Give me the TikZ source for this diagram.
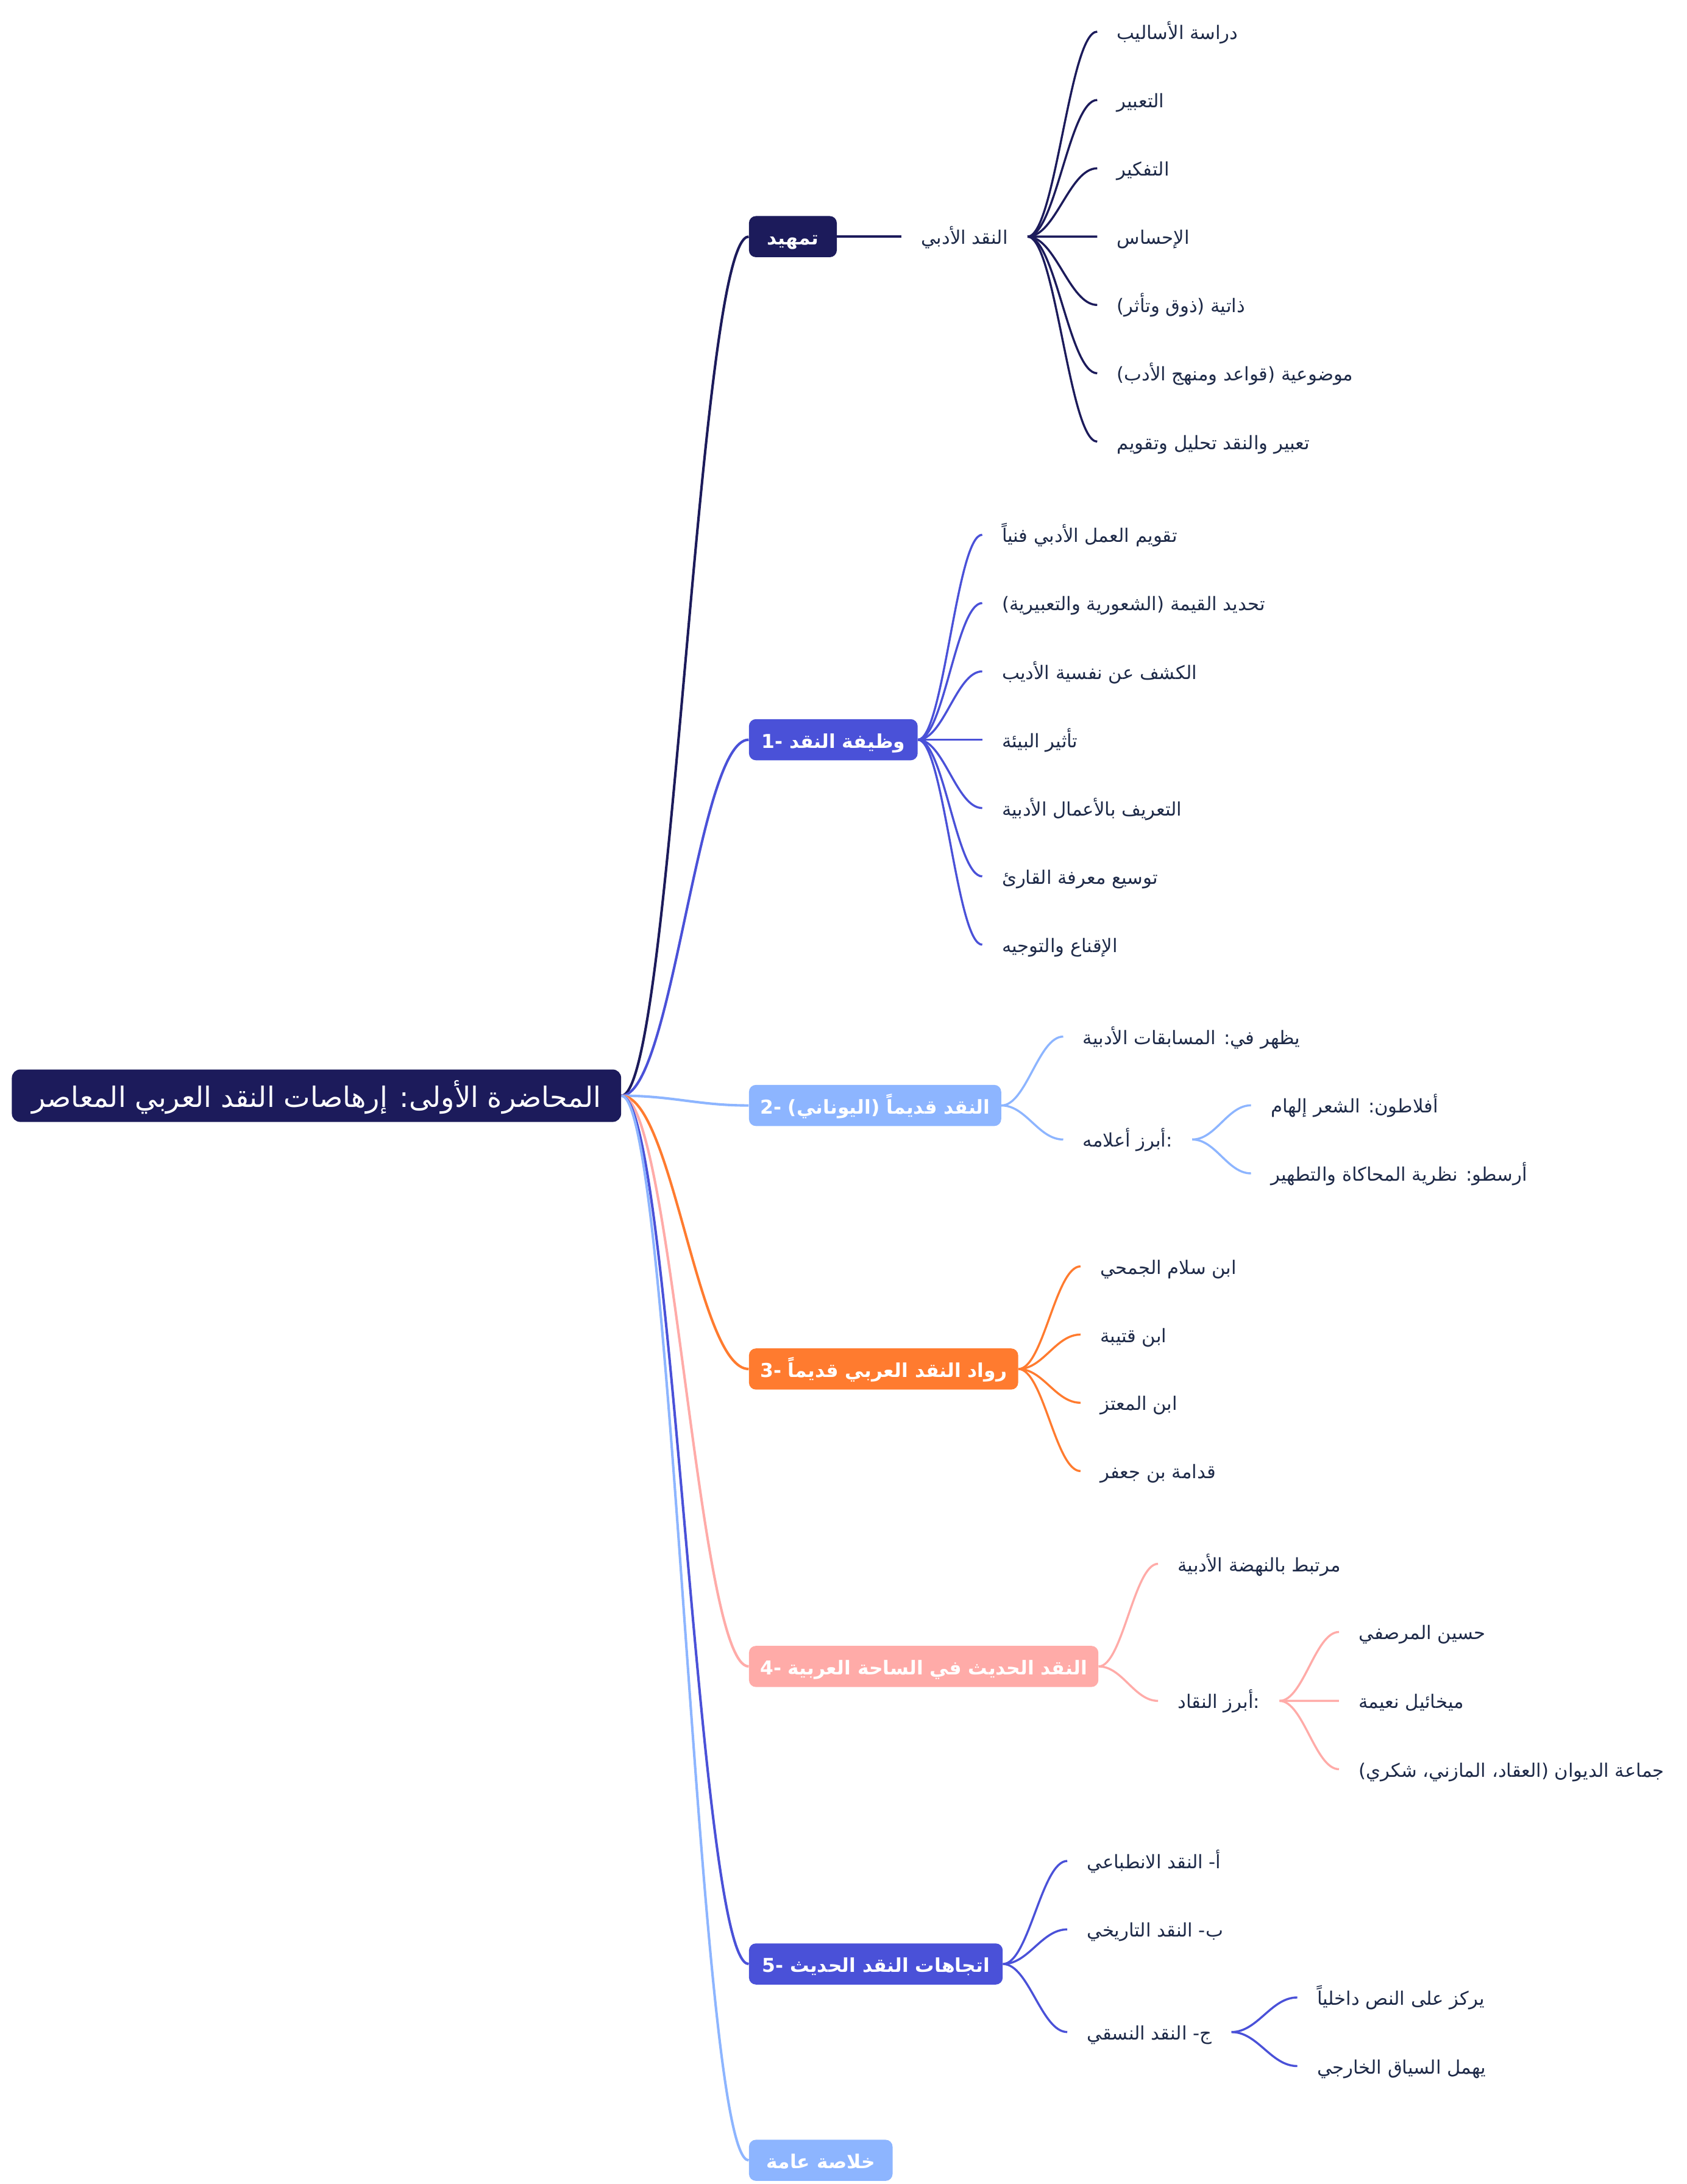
\documentclass[tikz,border=0pt]{standalone}
\usepackage{fontspec}
\usetikzlibrary{calc}
\TeXXeTstate=1
\setmainfont{DejaVu Sans}
\newfontfamily\arabicfont[Script=Arabic]{DejaVu Sans}
\definecolor{navy}{HTML}{1C1B5B}
\definecolor{royal}{HTML}{4A51D8}
\definecolor{sky}{HTML}{8DB5FF}
\definecolor{tang}{HTML}{FF7B2F}
\definecolor{rose}{HTML}{FFABA8}
\definecolor{leaftext}{HTML}{1E2A48}
\newcommand\artext[1]{\beginR #1\endR}
\newcommand\numpre[1]{{\rmfamily\bfseries #1-}\ }
\newcommand\mmlink[3]{\draw[#1] (#2) .. controls ($(#2)!0.4!(#2 -| #3)$) and ($(#3)!0.4!(#3 -| #2)$) .. (#3);}
\tikzset{
  rootbox/.style={fill=navy, rounded corners=6pt, text=white, minimum width=437pt,
    minimum height=37.6pt, inner xsep=8pt, inner ysep=0pt, text height=16.6pt, text depth=0pt,
    font=\arabicfont\fontsize{20.2}{24}\selectfont},
  topic/.style={anchor=west, rounded corners=5pt, text=white, minimum height=29.5pt,
    inner xsep=8pt, inner ysep=0pt, text height=12pt, text depth=0pt,
    font=\arabicfont\bfseries\fontsize{13.7}{17}\selectfont},
  leaf/.style={anchor=west, inner xsep=14pt, inner ysep=1pt, text=leaftext,
    text height=13pt, text depth=2pt, font=\arabicfont\fontsize{13.4}{16}\selectfont},
  rootlink/.style={line width=1.8pt},
  sublink/.style={line width=1.5pt},
}
\begin{document}
\begin{tikzpicture}[x=1pt,y=-1pt]
\useasboundingbox (0,0) rectangle (1210,1566.3);
% root
\node[rootbox] (root) at (227,785.8) {\artext{المحاضرة الأولى: إرهاصات النقد العربي المعاصر}};
% level 1
\node[topic, fill=navy, minimum width=63pt] (b0) at (537,169.7) {\artext{تمهيد}};
\node[topic, fill=royal, minimum width=121pt] (b1) at (537,530.5) {\numpre{1}\artext{وظيفة النقد}};
\node[topic, fill=sky, minimum width=179pt] (b2) at (537,792.8) {\numpre{2}\artext{النقد قديماً (اليوناني)}};
\node[topic, fill=tang, minimum width=191pt] (b3) at (537,981.8) {\numpre{3}\artext{رواد النقد العربي قديماً}};
\node[topic, fill=rose, minimum width=247pt] (b4) at (537,1195.1) {\numpre{4}\artext{النقد الحديث في الساحة العربية}};
\node[topic, fill=royal, minimum width=182pt] (b5) at (537,1408.5) {\numpre{5}\artext{اتجاهات النقد الحديث}};
\node[topic, fill=sky, minimum width=103pt] (b6) at (537,1549.3) {\artext{خلاصة عامة}};
% root links
\mmlink{rootlink,navy}{root.east}{b0.west}
\mmlink{rootlink,royal}{root.east}{b1.west}
\mmlink{rootlink,sky}{root.east}{b2.west}
\mmlink{rootlink,tang}{root.east}{b3.west}
\mmlink{rootlink,rose}{root.east}{b4.west}
\mmlink{rootlink,royal}{root.east}{b5.west}
\mmlink{rootlink,sky}{root.east}{b6.west}
% branch 0
\node[leaf] (n0) at (646.5,169.7) {\artext{النقد الأدبي}};
\draw[sublink,navy] (b0.east) -- (n0.west);
\node[leaf] (t1) at (787,22.7) {\artext{دراسة الأساليب}};
\node[leaf] (t2) at (787,71.7) {\artext{التعبير}};
\node[leaf] (t3) at (787,120.7) {\artext{التفكير}};
\node[leaf] (t4) at (787,169.7) {\artext{الإحساس}};
\node[leaf] (t5) at (787,218.7) {\artext{ذاتية (ذوق وتأثر)}};
\node[leaf] (t6) at (787,267.7) {\artext{موضوعية (قواعد ومنهج الأدب)}};
\node[leaf] (t7) at (787,316.7) {\artext{تعبير والنقد تحليل وتقويم}};
\foreach \i in {1,...,7}{\mmlink{sublink,navy}{n0.east}{t\i.west}}
% branch 1
\node[leaf] (f1) at (704.5,383.5) {\artext{تقويم العمل الأدبي فنياً}};
\node[leaf] (f2) at (704.5,432.5) {\artext{تحديد القيمة (الشعورية والتعبيرية)}};
\node[leaf] (f3) at (704.5,481.5) {\artext{الكشف عن نفسية الأديب}};
\node[leaf] (f4) at (704.5,530.5) {\artext{تأثير البيئة}};
\node[leaf] (f5) at (704.5,579.5) {\artext{التعريف بالأعمال الأدبية}};
\node[leaf] (f6) at (704.5,628.5) {\artext{توسيع معرفة القارئ}};
\node[leaf] (f7) at (704.5,677.5) {\artext{الإقناع والتوجيه}};
\foreach \i in {1,...,7}{\mmlink{sublink,royal}{b1.east}{f\i.west}}
% branch 2
\node[leaf] (g1) at (762.6,743.4) {\artext{يظهر في: المسابقات الأدبية}};
\node[leaf] (g2) at (762.6,817.2) {\artext{أبرز أعلامه}:};
\node[leaf] (g21) at (897.3,792.7) {\artext{أفلاطون: الشعر إلهام}};
\node[leaf] (g22) at (897.3,841.5) {\artext{أرسطو: نظرية المحاكاة والتطهير}};
\mmlink{sublink,sky}{b2.east}{g1.west}
\mmlink{sublink,sky}{b2.east}{g2.west}
\mmlink{sublink,sky}{g2.east}{g21.west}
\mmlink{sublink,sky}{g2.east}{g22.west}
% branch 3
\node[leaf] (r1) at (775,908.2) {\artext{ابن سلام الجمحي}};
\node[leaf] (r2) at (775,957.1) {\artext{ابن قتيبة}};
\node[leaf] (r3) at (775,1006.0) {\artext{ابن المعتز}};
\node[leaf] (r4) at (775,1055.0) {\artext{قدامة بن جعفر}};
\foreach \i in {1,...,4}{\mmlink{sublink,tang}{b3.east}{r\i.west}}
% branch 4
\node[leaf] (h1) at (830.6,1121.5) {\artext{مرتبط بالنهضة الأدبية}};
\node[leaf] (h2) at (830.6,1219.8) {\artext{أبرز النقاد}:};
\node[leaf] (h21) at (960.4,1170.4) {\artext{حسين المرصفي}};
\node[leaf] (h22) at (960.4,1219.8) {\artext{ميخائيل نعيمة}};
\node[leaf] (h23) at (960.4,1268.8) {\artext{جماعة الديوان (العقاد، المازني، شكري)}};
\mmlink{sublink,rose}{b4.east}{h1.west}
\mmlink{sublink,rose}{b4.east}{h2.west}
\foreach \i in {1,2,3}{\mmlink{sublink,rose}{h2.east}{h2\i.west}}
% branch 5
\node[leaf] (k1) at (765.5,1334.6) {\artext{أ- النقد الانطباعي}};
\node[leaf] (k2) at (765.5,1383.7) {\artext{ب- النقد التاريخي}};
\node[leaf] (k3) at (765.5,1457.3) {\artext{ج- النقد النسقي}};
\node[leaf] (k31) at (930.5,1432.5) {\artext{يركز على النص داخلياً}};
\node[leaf] (k32) at (930.5,1481.7) {\artext{يهمل السياق الخارجي}};
\foreach \i in {1,2,3}{\mmlink{sublink,royal}{b5.east}{k\i.west}}
\mmlink{sublink,royal}{k3.east}{k31.west}
\mmlink{sublink,royal}{k3.east}{k32.west}
\end{tikzpicture}
\end{document}
